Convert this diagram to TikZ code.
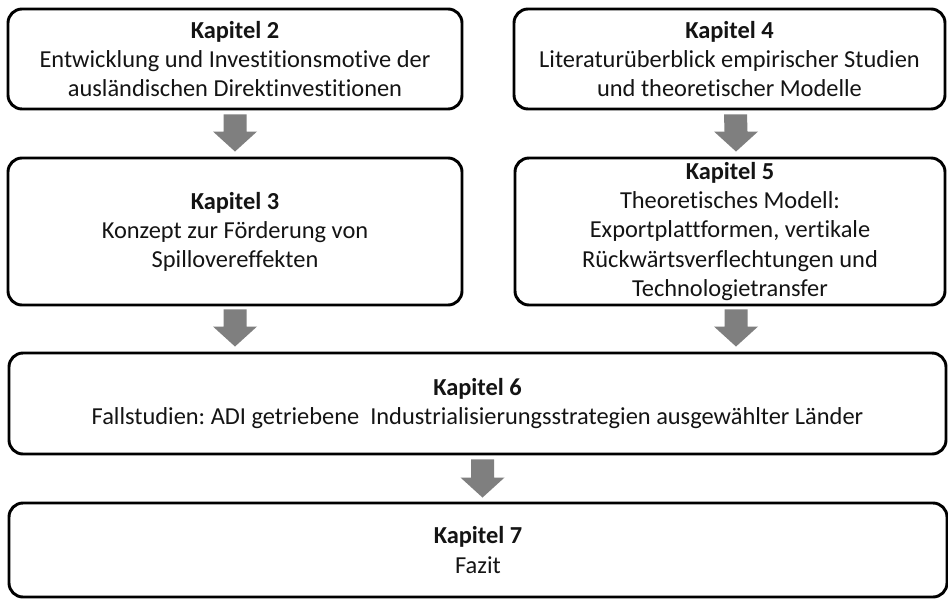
\documentclass[tikz,border=0pt]{standalone}
\usepackage{fontspec}
\setmainfont[Ligatures=NoCommon]{Carlito}
\usetikzlibrary{calc}
\definecolor{arrowgray}{HTML}{7F7F7F}
\definecolor{textdark}{HTML}{141414}
\newcommand\pxu{0.75pt}
% gray block arrow from coordinate #1 (shaft top) to coordinate #2 (tip)
\newcommand\blockarrow[2]{%
  \fill[arrowgray] ($(#1)+(-11.5,0)$) -- ($(#1)+(11.5,0)$)
    -- ($(#2)+(11.5,-20)$) -- ($(#2)+(22,-20)$) -- (#2)
    -- ($(#2)+(-22,-20)$) -- ($(#2)+(-11.5,-20)$) -- cycle;}
\tikzset{
  chapter/.style={draw=black, line width=2.2pt, rounded corners=10.5pt,
    fill=white, align=center, inner sep=0pt, text=textdark,
    font=\fontsize{18.3}{21.8}\selectfont},
}
\frenchspacing
\begin{document}
\begin{tikzpicture}[x=0.75pt, y=-0.75pt]
\useasboundingbox (0,0) rectangle (948,599);
\fill[white] (0,0) rectangle (948,599);

\node[chapter, minimum width=454*\pxu, minimum height=100*\pxu] (k2) at (235,59)
  {\textbf{Kapitel 2}\\Entwicklung und Investitionsmotive der\\ausländischen Direktinvestitionen};
\node[chapter, minimum width=454*\pxu, minimum height=147*\pxu] (k3) at (235,231.5)
  {\textbf{Kapitel 3}\\Konzept zur Förderung von\\Spillovereffekten};
\node[chapter, minimum width=431*\pxu, minimum height=100*\pxu] (k4) at (729.5,59)
  {\textbf{Kapitel 4}\\Literaturüberblick empirischer Studien\\und theoretischer Modelle};
\node[chapter, minimum width=430*\pxu, minimum height=147*\pxu] (k5) at (730,231.5)
  {\textbf{Kapitel 5}\\Theoretisches Modell:\\Exportplattformen, vertikale\\Rückwärtsverflechtungen und\\Technologietransfer};
\node[chapter, minimum width=937*\pxu, minimum height=101*\pxu] (k6) at (477.5,403.5)
  {\textbf{Kapitel 6}\\Fallstudien: ADI getriebene\ \ Industrialisierungsstrategien ausgewählter Länder};
\node[chapter, minimum width=938*\pxu, minimum height=94*\pxu] (k7) at (478,550)
  {\textbf{Kapitel 7}\\Fazit};

% connectors between the chapters
\blockarrow{$(k2.south)+(0,4)$}{$(k3.north)+(0,-5)$}
\blockarrow{$(k4.south)+(6,4)$}{$(k5.north)+(6,-5)$}
\blockarrow{$(k3.south)+(0,3)$}{$(k3.south |- k6.north)+(0,-5)$}
\blockarrow{$(k5.south)+(6,3)$}{$(k5.south |- k6.north)+(6,-5)$}
\blockarrow{$(k6.south)+(5,4)$}{$(k6.south |- k7.north)+(5,-4)$}
\end{tikzpicture}
\end{document}
